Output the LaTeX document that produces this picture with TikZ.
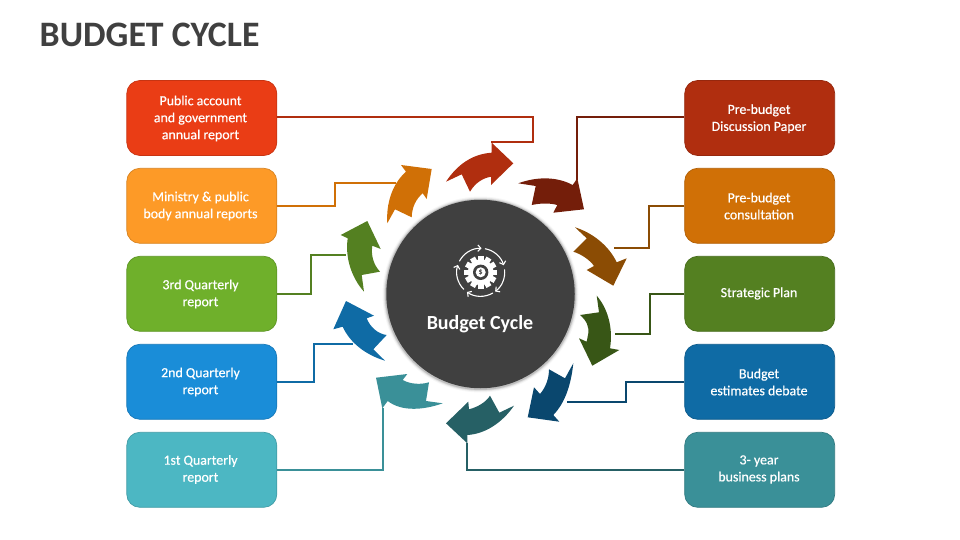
\documentclass[tikz,border=0pt]{standalone}
\usepackage{fontspec}
\setmainfont{Carlito}
\newfontfamily\cardfont[FakeBold=0.5]{Carlito}
\usetikzlibrary{arrows.meta}
\definecolor{cA}{HTML}{EA3D15}
\definecolor{cB}{HTML}{FD9A27}
\definecolor{cC}{HTML}{6FB02B}
\definecolor{cD}{HTML}{1A8DD8}
\definecolor{cE}{HTML}{4CB7C3}
\definecolor{dA}{HTML}{B02E0F}
\definecolor{dB}{HTML}{D07006}
\definecolor{dC}{HTML}{548021}
\definecolor{dD}{HTML}{0F6BA5}
\definecolor{dE}{HTML}{3A9098}
\definecolor{eA}{HTML}{741E0A}
\definecolor{eB}{HTML}{8B4C04}
\definecolor{eC}{HTML}{385616}
\definecolor{eD}{HTML}{0A476E}
\definecolor{eE}{HTML}{266065}
\definecolor{ink}{HTML}{404040}
\tikzset{
  card/.style={draw=#1!85!black,fill=#1,line width=0.7pt,rounded corners=13pt,minimum width=150pt,minimum height=75pt,inner sep=0pt},
  cardtext/.style={text=white,align=center,font=\fontsize{13.9}{17}\cardfont,inner sep=0pt},
  link/.style={draw=#1,line width=2pt,line join=miter},
  swoosh/.style={fill=#1,draw=none},
  iconline/.style={draw=white,line width=1.1pt,line cap=round,-{Straight Barb[length=3pt,width=6.5pt]}},
}
\begin{document}
\begin{tikzpicture}[x=1pt,y=-1pt]
\useasboundingbox (0,0) rectangle (960,540);
\node[anchor=west,text=ink,font=\fontsize{35.8}{36}\selectfont\bfseries,inner sep=0pt] (title) at (39.5,35) {BUDGET CYCLE};

% boxes
\node[card=cA] (b1) at (201.8,118) {};
\node[card=cB] (b2) at (201.8,205.8) {};
\node[card=cC] (b3) at (201.8,293.8) {};
\node[card=cD] (b4) at (201.8,381.8) {};
\node[card=cE] (b5) at (201.8,469.8) {};
\node[card=dA] (r1) at (759.7,118) {};
\node[card=dB] (r2) at (759.7,205.8) {};
\node[card=dC] (r3) at (759.7,293.8) {};
\node[card=dD] (r4) at (759.7,381.8) {};
\node[card=dE] (r5) at (759.7,469.8) {};
% box texts
\node[cardtext] (t1) at (200.5,118.5) {Public account\\and government\\annual report};
\node[cardtext] (t2) at (200.5,206) {Ministry \& public\\body annual reports};
\node[cardtext] (t3) at (200.5,294) {3rd Quarterly\\report};
\node[cardtext] (t4) at (200.5,382) {2nd Quarterly\\report};
\node[cardtext] (t5) at (200.5,469.5) {1st Quarterly\\report};
\node[cardtext] (u1) at (759,118.7) {Pre-budget\\Discussion Paper};
\node[cardtext] (u2) at (759,206) {Pre-budget\\consultation};
\node[cardtext] (u3) at (759,293.5) {Strategic Plan};
\node[cardtext] (u4) at (759,382) {Budget\\estimates debate};
\node[cardtext] (u5) at (759,469.5) {3- year\\business plans};

% arrow end points
\coordinate (e1) at (491,142.5);
\coordinate (e2) at (396,183);
\coordinate (e3) at (346,255);
\coordinate (e4) at (353,344);
\coordinate (e5) at (383,408);
\coordinate (f1) at (577,180);
\coordinate (f2) at (614,248);
\coordinate (f3) at (615,334);
\coordinate (f4) at (567,402);
\coordinate (f5) at (467,443);

% connectors
\draw[link=dA] (b1.east|-0,117) -- (533,117) -- (533,142.5) -- (e1);
\draw[link=dB] (b2.east) -- (335,205.8) -- (335,183) -- (e2);
\draw[link=dC] (b3.east) -- (311,293.8) -- (311,255) -- (e3);
\draw[link=dD] (b4.east) -- (314,381.8) -- (314,344) -- (e4);
\draw[link=dE] (b5.east) -- (383,469.8) -- (e5);
\draw[link=eA] (r1.west|-0,117) -- (577,117) -- (f1);
\draw[link=eB] (r2.west) -- (649,205.8) -- (649,248) -- (f2);
\draw[link=eC] (r3.west) -- (650,293.8) -- (650,334) -- (f3);
\draw[link=eD] (r4.west) -- (626,381.8) -- (626,402) -- (f4);
\draw[link=eE] (r5.west) -- (467,469.8) -- (f5);

% curved arrows
\fill[swoosh=dA] (446,181.7) -- (461.7,174.3) -- (470,191.7) .. controls (475,183) and (483,178) .. (491,176.7) -- (491,185) -- (513.3,163.3) -- (491.7,142.7) -- (491.7,152.7) .. controls (472,154) and (457,165) .. (446,181.7) -- cycle;
\fill[swoosh=eA] (518.3,183.3) -- (535.7,186) -- (531.7,205) .. controls (541,203) and (550,203) .. (557.3,205) -- (553.3,212.7) -- (584,209.3) -- (577.3,178.3) -- (572.7,185) .. controls (558,177) and (538,176) .. (518.3,183.3) -- cycle;
\fill[swoosh=eB] (575,227.3) -- (586.7,238.3) -- (573.3,251.7) .. controls (581,254) and (590,260) .. (594,266) -- (586.7,270) -- (613.3,285.7) -- (626.7,258.3) -- (616.7,262.3) .. controls (609,246) and (593,233) .. (575,227.3) -- cycle;
\fill[swoosh=eC] (596.7,295.7) -- (599,312.3) -- (580,315) .. controls (587,321) and (589,327) .. (588.3,333.3) -- (586.7,341.7) -- (579,338.3) -- (592.3,365.7) -- (619.3,350) -- (610,348.3) .. controls (613,330) and (609,310) .. (596.7,295.7) -- cycle;
\fill[swoosh=eD] (573.3,363.3) -- (565,378.3) -- (549,369.3) .. controls (549,378) and (546,387) .. (540,394) -- (534,387.3) -- (527.7,417.3) -- (559.3,421.7) -- (553.3,415) .. controls (565,403) and (571,385) .. (573.3,363.3) -- cycle;
\fill[swoosh=eE] (514,405.7) -- (499.3,412.7) -- (490,395.7) .. controls (486,402) and (478,407) .. (469,409.3) -- (468.3,401.7) -- (446,423.3) -- (467.3,443.3) -- (467.3,435) .. controls (485,434) and (502,423) .. (514,405.7) -- cycle;
\fill[swoosh=dE] (442.7,403.3) -- (426,401) -- (429,382.3) .. controls (420,385) and (410,384) .. (402.7,380) -- (407.3,374) -- (376,377.7) -- (382.3,408.3) -- (387.7,401) .. controls (402,412) and (424,410) .. (442.7,403.3) -- cycle;
\fill[swoosh=dD] (385,360.7) -- (373.3,349.3) -- (386.7,335) .. controls (378,334) and (370,327) .. (366.7,318.3) -- (374,315.7) -- (346,301) -- (333.3,329.3) -- (342.7,326.7) .. controls (350,343) and (366,355) .. (385,360.7) -- cycle;
\fill[swoosh=dC] (364,291.7) -- (361.7,275) -- (380,271.7) .. controls (373,264) and (371,255) .. (372.3,245.7) -- (380.7,249) -- (367.3,221) -- (340.7,235) -- (347.7,238.3) .. controls (345,257) and (351,277) .. (364,291.7) -- cycle;
\fill[swoosh=dB] (387.3,223.3) -- (395,209.3) -- (411.7,217.3) .. controls (412,207) and (416,199) .. (422.7,193.3) -- (426.7,199) -- (431.7,169) -- (401,165) -- (406,171.7) .. controls (392,184) and (386,204) .. (387.3,223.3) -- cycle;

% hub
\foreach \r/\o in {98/.03,97/.05,96.2/.08,95.5/.12}{\fill[black,opacity=\o] (480.5,294.5) circle (\r);}
\node[circle,fill=ink,minimum size=188.5pt,inner sep=0pt] (hub) at (480.5,294) {};
\node[text=white,font=\fontsize{20}{20}\selectfont\bfseries,inner sep=0pt] (hubtext) at (480,324.5) {Budget Cycle};

% icon
\coordinate (ic) at (480.7,272.3);
\foreach \a in {0,30,...,330}{\fill[white,rotate around={\a:(ic)}] (477.9,255.8) rectangle (483.5,262);}
\fill[white] (ic) circle (13);
\fill[ink] (ic) circle (7.7);
\fill[white] (ic) circle (5);
\node[text=ink,font=\fontsize{8}{8}\selectfont\bfseries,inner sep=0pt] (dollar) at (ic) {\$};
\foreach \s/\t in {-152/-88,-79/-17,-6/53,60/125,135/198}{
  \draw[iconline] ([shift={(\s:24)}]ic) arc[start angle=\s,end angle=\t,radius=24];
}
\end{tikzpicture}
\end{document}
